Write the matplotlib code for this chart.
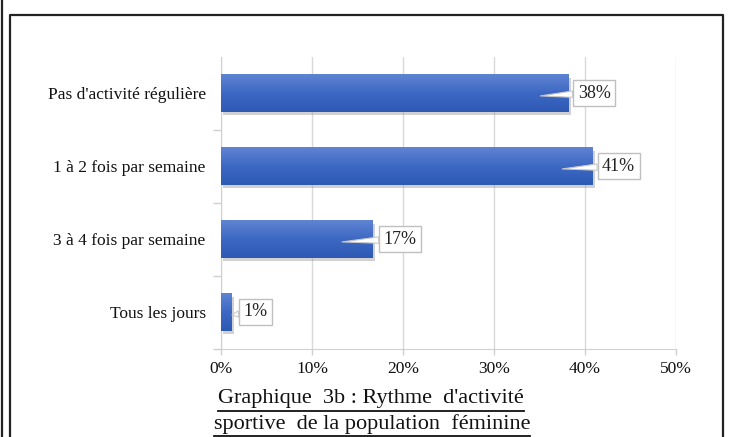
import matplotlib
matplotlib.use("Agg")
import matplotlib.pyplot as plt
import numpy as np
from matplotlib.lines import Line2D
from matplotlib.patches import Rectangle

categories = ["Pas d'activité régulière", "1 à 2 fois par semaine", "3 à 4 fois par semaine", "Tous les jours"]
values = [38.2, 40.8, 16.7, 1.2]
value_labels = ["38%", "41%", "17%", "1%"]
xtick_vals = [0, 10, 20, 30, 40, 50]
xtick_labels = ["0%", "10%", "20%", "30%", "40%", "50%"]
title_lines = ["Graphique  3b : Rythme  d'activité", "sportive  de la population  féminine"]

plt.rcParams['font.family'] = ['Liberation Serif', 'DejaVu Serif']

W, H = 729, 437
fig = plt.figure(figsize=(W / 100, H / 100), dpi=100)
fig.patch.set_facecolor('white')

# borders
fig.add_artist(Line2D([1.5 / W, 1.5 / W], [0, 1], color='#222222', lw=1.6))
fig.add_artist(Line2D([9.5 / W, 9.5 / W, 722.5 / W, 722.5 / W], [0, 1 - 14.5 / H, 1 - 14.5 / H, 0],
                      color='#222222', lw=1.6))

ax = fig.add_axes([221 / W, 1 - 348.5 / H, 455 / W, 292 / H])
y = np.arange(len(categories))
ax.set_ylim(len(categories) - 0.5, -0.5)
ax.set_xlim(0, 50)

ax.set_axisbelow(True)
ax.grid(axis='x', color='#d9d9d9', lw=1)

bars = ax.barh(y, values, height=0.51, color='#3B67C3', zorder=3)

# shadow + gradient
grad = np.linspace(0, 1, 64).reshape(-1, 1)
cmap = matplotlib.colors.LinearSegmentedColormap.from_list('g', ['#5F84D2', '#3D68C4', '#2D5AB5'])
for b in bars:
    x0, y0, w, h = b.get_x(), b.get_y(), b.get_width(), b.get_height()
    sh = Rectangle((x0 + 0.25, y0 + 0.05), w, h, facecolor='#9a9a9a', alpha=0.45, lw=0, zorder=2)
    ax.add_patch(sh)
    im = ax.imshow(grad, extent=(x0, x0 + w, y0 + h, y0), aspect='auto', cmap=cmap, zorder=3.5,
                   interpolation='bilinear')
    im.set_clip_path(b)
ax.set_xlim(0, 50)
ax.set_ylim(len(categories) - 0.5, -0.5)

# callouts
label_x = [41.0, 43.7, 19.7, 3.8]
tip_x = [35.1, 37.5, 13.3, 1.2]
for i, (lx, tx, lab) in enumerate(zip(label_x, tip_x, value_labels)):
    ax.annotate(lab, xy=(tx, i + 0.04), xytext=(lx, i), ha='center', va='center', fontsize=13,
                color='#222222', zorder=6,
                bbox=dict(boxstyle='square,pad=0.25', fc='white', ec='#c0c0c0', lw=1),
                arrowprops=dict(arrowstyle='wedge,tail_width=0.35,shrink_factor=0.5', fc='white',
                                ec='#c8c8c8', lw=0.8, shrinkA=0, shrinkB=0))

ax.set_yticks(y)
ax.set_yticklabels(categories, fontsize=12.5)
ax.set_yticks(np.arange(-0.5, len(categories), 1)[1:], minor=True)
ax.tick_params(axis='y', which='major', length=0, pad=11, colors='#111111')
ax.tick_params(axis='y', which='minor', length=6, color='#d0d0d0', width=1)
ax.set_xticks(xtick_vals)
ax.set_xticklabels(xtick_labels, fontsize=12.5)
ax.tick_params(axis='x', length=4, color='#d0d0d0', width=1, pad=5, colors='#111111')
for t in ax.get_xticklines():
    t.set_color('#d0d0d0')
for s in ['top', 'right']:
    ax.spines[s].set_visible(False)
ax.spines['left'].set_color('#d0d0d0')
ax.spines['bottom'].set_color('#d0d0d0')

# title with underline
t1 = fig.text(371 / W, 1 - 399 / H, title_lines[0], ha='center', va='center', fontsize=16, color='#111111')
t2 = fig.text(372 / W, 1 - 424 / H, title_lines[1], ha='center', va='center', fontsize=16, color='#111111')
fig.canvas.draw()
r = fig.canvas.get_renderer()
for t, uy in [(t1, 410.5), (t2, 435.5)]:
    bb = t.get_window_extent(r)
    fig.add_artist(Line2D([bb.x0 / W, bb.x1 / W], [1 - uy / H, 1 - uy / H], color='#111111', lw=1.3))

fig.savefig('out.png', dpi=100, facecolor='white')
